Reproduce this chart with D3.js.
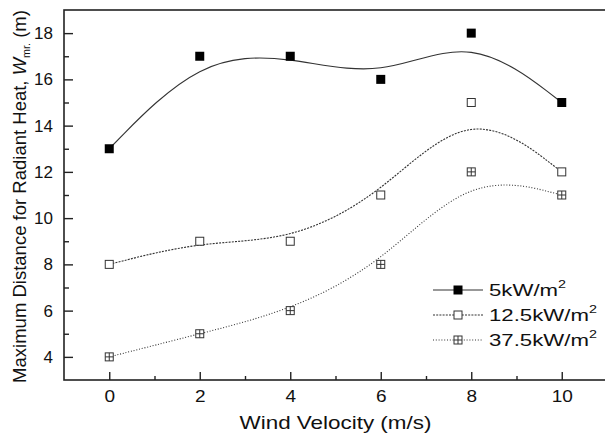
<!DOCTYPE html>
<html>
<head>
<meta charset="utf-8">
<script src="https://cdn.jsdelivr.net/npm/d3@7"></script>
<style>
  body { margin: 0; background: #fff; }
  svg { font-family: Arial, "Liberation Sans", sans-serif; }
</style>
</head>
<body>
<div class="chart"></div>
<script>
// wind velocity (m/s)
const windVelocity = [0, 2, 4, 6, 8, 10];
// max distance for radiant heat (m)
const dist5 = [13, 17, 17, 16, 18, 15];
const dist12_5 = [8, 9, 9, 11, 15, 12];
const dist37_5 = [4, 5, 6, 8, 12, 11];
const seriesNames = ["5kW/m", "12.5kW/m", "37.5kW/m"];
const xTicks = [0, 2, 4, 6, 8, 10];
const yTicks = [4, 6, 8, 10, 12, 14, 16, 18];

const width = 605, height = 434;
const margin = { top: 10, right: -2, bottom: 54, left: 64 };

const svg = d3.select(".chart")
    .append("svg")
    .attr("width", width)
    .attr("height", height);

const x = d3.scaleLinear()
    .domain([-1, 11])
    .range([margin.left, width - margin.right]);
const y = d3.scaleLinear()
    .domain([3, 19])
    .range([height - margin.bottom, margin.top]);

const series = [
    { name: seriesNames[0], values: dist5, dash: null, marker: "filled" },
    { name: seriesNames[1], values: dist12_5, dash: "2,1.2", marker: "open" },
    { name: seriesNames[2], values: dist37_5, dash: "1,1.8", marker: "cross" }
];

// stretch a text horizontally (in its own frame) to a target width, around anchor ax
function fitWidth(sel, target, ax, pre) {
    const w = sel.node().getBBox().width;
    const k = target / w;
    sel.attr("transform", `${pre || ""} translate(${ax},0) scale(${k},1) translate(${-ax},0)`);
}

// frame
svg.append("rect")
    .attr("x", x(-1)).attr("y", y(19))
    .attr("width", x(11) - x(-1)).attr("height", y(3) - y(19))
    .style("fill", "none").style("stroke", "#222").style("stroke-width", 1.6);

// x axis, ticks inside
svg.append("g")
    .attr("class", "xaxis")
    .attr("transform", `translate(0, ${y(3)})`)
    .call(d3.axisBottom(x).tickValues(xTicks).tickSizeInner(-8).tickSizeOuter(0).tickPadding(10))
    .style("font-size", "17px");
svg.append("g")
    .attr("transform", `translate(0, ${y(3)})`)
    .call(d3.axisBottom(x).tickValues([1, 3, 5, 7, 9]).tickSizeInner(-4).tickSizeOuter(0).tickFormat(""));

// y axis, ticks inside
svg.append("g")
    .attr("class", "yaxis")
    .attr("transform", `translate(${x(-1)}, 0)`)
    .call(d3.axisLeft(y).tickValues(yTicks).tickSizeInner(-9).tickSizeOuter(0).tickPadding(11))
    .style("font-size", "17px");
svg.append("g")
    .attr("transform", `translate(${x(-1)}, 0)`)
    .call(d3.axisLeft(y).tickValues([5, 7, 9, 11, 13, 15, 17]).tickSizeInner(-5).tickSizeOuter(0).tickFormat(""));

svg.selectAll(".domain").remove();
svg.selectAll(".tick line").style("stroke", "#222").style("stroke-width", 1.4);
svg.selectAll(".tick text").style("fill", "#111").attr("font-family", "Arial, 'Liberation Sans', sans-serif");
svg.selectAll(".xaxis .tick text").attr("transform", "scale(1.12,1)");

// axis titles
const xTitle = svg.append("text")
    .attr("x", x(5)).attr("y", 429)
    .attr("text-anchor", "middle")
    .style("font-size", "18px").style("fill", "#111")
    .text("Wind Velocity (m/s)");
fitWidth(xTitle, 192, x(5));

const yTitle = svg.append("text")
    .attr("text-anchor", "middle")
    .style("font-size", "19px").style("fill", "#111");
yTitle.append("tspan").text("Maximum Distance for Radiant Heat, ");
yTitle.append("tspan").style("font-style", "italic").text("W");
yTitle.append("tspan").attr("dy", 4).style("font-size", "11px").text("mr.");
yTitle.append("tspan").attr("dy", -4).text(" (m)");
fitWidth(yTitle, 373, 0, "translate(26,196.5) rotate(-90)");

// curves (B-spline with data as control points)
const line = d3.line()
    .x((d, i) => x(windVelocity[i]))
    .y(d => y(d))
    .curve(d3.curveBasis);

svg.append("g").selectAll("path")
    .data(series)
    .enter()
    .append("path")
    .attr("d", d => line(d.values))
    .style("fill", "none")
    .style("stroke", "#333")
    .style("stroke-width", 1.1)
    .style("stroke-dasharray", d => d.dash);

function drawMarker(g, kind, cx, cy) {
    const s = 9;
    if (kind === "filled") {
        g.append("rect").attr("x", cx - s / 2).attr("y", cy - s / 2)
            .attr("width", s).attr("height", s).style("fill", "#000");
    } else {
        const r = 8;
        g.append("rect").attr("x", cx - r / 2).attr("y", cy - r / 2)
            .attr("width", r).attr("height", r)
            .style("fill", "#fff").style("stroke", "#333").style("stroke-width", 1);
        if (kind === "cross") {
            g.append("line").attr("x1", cx).attr("x2", cx).attr("y1", cy - r / 2).attr("y2", cy + r / 2)
                .style("stroke", "#333").style("stroke-width", 1);
            g.append("line").attr("x1", cx - r / 2).attr("x2", cx + r / 2).attr("y1", cy).attr("y2", cy)
                .style("stroke", "#333").style("stroke-width", 1);
        }
    }
}

const markers = svg.append("g");
series.forEach(s => {
    s.values.forEach((v, i) => drawMarker(markers, s.marker, x(windVelocity[i]), y(v)));
});

// legend
const legend = svg.append("g");
const legendTexts = [];
series.forEach((s, i) => {
    const ly = 290 + i * 25;
    legend.append("line")
        .attr("x1", 433).attr("x2", 483).attr("y1", ly).attr("y2", ly)
        .style("stroke", "#333").style("stroke-width", 1.1)
        .style("stroke-dasharray", s.dash);
    drawMarker(legend, s.marker, 458, ly);
    const t = legend.append("text")
        .attr("x", 489).attr("y", ly + 6)
        .style("font-size", "17px").style("fill", "#111");
    t.append("tspan").text(s.name);
    t.append("tspan").attr("dy", -8).style("font-size", "11px").text("2");
    legendTexts.push(t);
});
// same horizontal stretch for all legend labels, taken from the longest one
const legendK = 108 / legendTexts[2].node().getBBox().width;
legendTexts.forEach(t => t.attr("transform", `translate(489,0) scale(${legendK},1) translate(-489,0)`));
</script>
</body>
</html>
